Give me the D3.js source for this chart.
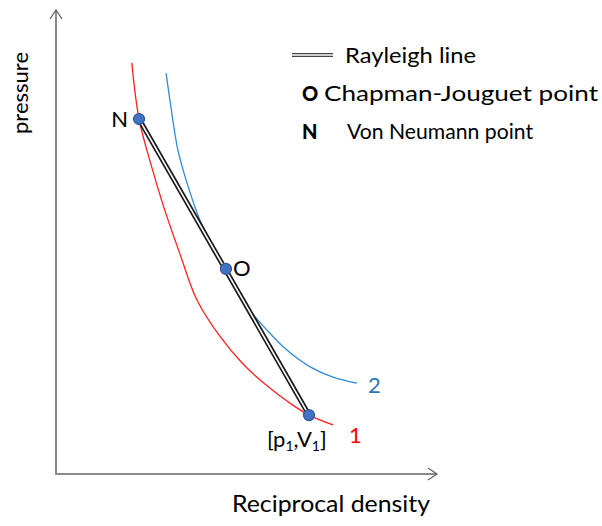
<!DOCTYPE html>
<html>
<head>
<meta charset="utf-8">
<script src="https://cdn.jsdelivr.net/npm/d3@7"></script>
<style>
  html, body { margin: 0; padding: 0; background: #fff; }
  svg { display: block; }
  text { font-family: Lato, "Open Sans", sans-serif; fill: #000; }
</style>
</head>
<body>
<svg id="chart" width="602" height="526"></svg>
<script>
// Curve 1 (red): Hugoniot of unreacted material  [reciprocal density, pressure]
const curve1X = [1.99, 2.18, 2.50, 2.81, 3.25, 3.70, 4.30, 4.91, 5.54, 6.10, 6.64, 7.27];
const curve1Y = [8.86, 7.65, 6.65, 5.80, 4.75, 3.75, 2.97, 2.37, 1.90, 1.55, 1.27, 1.06];
// Curve 2 (blue): Hugoniot of detonation products
const curve2X = [2.89, 2.99, 3.20, 3.44, 3.78, 4.04, 4.30, 4.46, 5.09, 5.54, 6.06, 6.67, 7.27, 7.90];
const curve2Y = [8.64, 8.06, 6.98, 6.27, 5.47, 5.04, 4.61, 4.42, 3.53, 3.10, 2.67, 2.31, 2.09, 1.96];
// Special points: N (Von Neumann), O (Chapman-Jouguet), [p1,V1]
const pointNames = ["N", "O", "P1"];
const pointX = [2.18, 4.46, 6.64];
const pointY = [7.65, 4.42, 1.27];
// Rayleigh line: from N through O to [p1,V1]
const rayleighIdx = [0, 2];
// Legend entries
const legendSymbols = ["", "O", "N"];
const legendLabels = ["Rayleigh line", "Chapman-Jouguet point", "Von Neumann point"];

const svg = d3.select("#chart");
const x0 = 56, y0 = 474, xEnd = 437, yEnd = 10;
const x = d3.scaleLinear().domain([0, 10]).range([x0, x0 + 381]);
const y = d3.scaleLinear().domain([0, 10]).range([y0, y0 - 464]);

const axisColor = "#8a8a8a";
// axes
svg.append("line").attr("x1", x0).attr("y1", y0).attr("x2", x0).attr("y2", yEnd + 1)
  .attr("stroke", axisColor).attr("stroke-width", 2);
svg.append("line").attr("x1", x0 - 1).attr("y1", y0).attr("x2", xEnd - 1).attr("y2", y0)
  .attr("stroke", axisColor).attr("stroke-width", 2);
// arrowheads (open chevrons)
svg.append("path").attr("d", `M${x0 - 6},${yEnd + 9} L${x0},${yEnd} L${x0 + 6},${yEnd + 9}`)
  .attr("fill", "none").attr("stroke", "#666").attr("stroke-width", 1.3);
svg.append("path").attr("d", `M${xEnd - 9},${y0 - 6} L${xEnd},${y0} L${xEnd - 9},${y0 + 6}`)
  .attr("fill", "none").attr("stroke", "#666").attr("stroke-width", 1.3);

const line = d3.line().x(d => x(d[0])).y(d => y(d[1])).curve(d3.curveCatmullRom.alpha(0.5));
svg.append("path").datum(curve1X.map((v, i) => [v, curve1Y[i]]))
  .attr("d", line).attr("fill", "none").attr("stroke", "#ff2020").attr("stroke-width", 1.3);
svg.append("path").datum(curve2X.map((v, i) => [v, curve2Y[i]]))
  .attr("d", line).attr("fill", "none").attr("stroke", "#2f8ad4").attr("stroke-width", 1.3);

// Rayleigh line (double line)
const ra = rayleighIdx[0], rb = rayleighIdx[1];
svg.append("line").attr("x1", x(pointX[ra])).attr("y1", y(pointY[ra]))
  .attr("x2", x(pointX[rb])).attr("y2", y(pointY[rb]))
  .attr("stroke", "#1a1a1a").attr("stroke-width", 5);
svg.append("line").attr("x1", x(pointX[ra])).attr("y1", y(pointY[ra]))
  .attr("x2", x(pointX[rb])).attr("y2", y(pointY[rb]))
  .attr("stroke", "#fff").attr("stroke-width", 1.6);

// points
svg.selectAll("circle.pt").data(pointX).enter().append("circle")
  .attr("class", "pt")
  .attr("cx", d => x(d)).attr("cy", (d, i) => y(pointY[i])).attr("r", 5.5)
  .attr("fill", "#4472c4").attr("stroke", "#2f5597").attr("stroke-width", 1.2);

// point labels
svg.append("text").attr("x", x(pointX[0]) - 11).attr("y", y(pointY[0]) + 8)
  .attr("text-anchor", "end").attr("font-size", 22).text("N");
svg.append("text").attr("x", x(pointX[1]) + 7).attr("y", y(pointY[1]) + 7)
  .attr("font-size", 22).text("O");
const pl = svg.append("text").attr("x", x(pointX[2]) - 42).attr("y", y(pointY[2]) + 32)
  .attr("font-size", 22);
pl.append("tspan").text("[p");
pl.append("tspan").attr("font-size", 14).attr("dy", 4).text("1");
pl.append("tspan").attr("dy", -4).text(",V");
pl.append("tspan").attr("font-size", 14).attr("dy", 4).text("1");
pl.append("tspan").attr("dy", -4).text("]");

// curve labels
svg.append("text").attr("x", x(curve2X[curve2X.length - 1]) + 11).attr("y", y(curve2Y[curve2Y.length - 1]) + 10)
  .attr("font-size", 22).style("fill", "#2e75b6").text("2");
svg.append("text").attr("x", x(curve1X[curve1X.length - 1]) + 16).attr("y", y(curve1Y[curve1Y.length - 1]) + 18)
  .attr("font-size", 22).style("fill", "#ff0000").text("1");

// legend
const legY = [63, 101, 139];
svg.append("line").attr("x1", 292).attr("x2", 333).attr("y1", 55).attr("y2", 55)
  .attr("stroke", "#444").attr("stroke-width", 4);
svg.append("line").attr("x1", 292).attr("x2", 333).attr("y1", 55).attr("y2", 55)
  .attr("stroke", "#fff").attr("stroke-width", 1.3);
legendSymbols.forEach((s, i) => {
  if (s) svg.append("text").attr("x", 302).attr("y", legY[i]).attr("font-size", 20)
    .attr("font-weight", 900).text(s);
});
const legX = [345, 324, 347];
const legW = [131, 274, 186];
legendLabels.forEach((s, i) => {
  svg.append("text").attr("x", legX[i]).attr("y", legY[i]).attr("font-size", 22)
    .attr("textLength", legW[i]).attr("lengthAdjust", "spacingAndGlyphs").text(s);
});

// axis titles
svg.append("text").attr("x", 232).attr("y", 512).attr("font-size", 23)
  .attr("textLength", 198).attr("lengthAdjust", "spacingAndGlyphs").text("Reciprocal density");
svg.append("text").attr("transform", "translate(28,93) rotate(-90)")
  .attr("text-anchor", "middle").attr("font-size", 22).text("pressure");
</script>
</body>
</html>
